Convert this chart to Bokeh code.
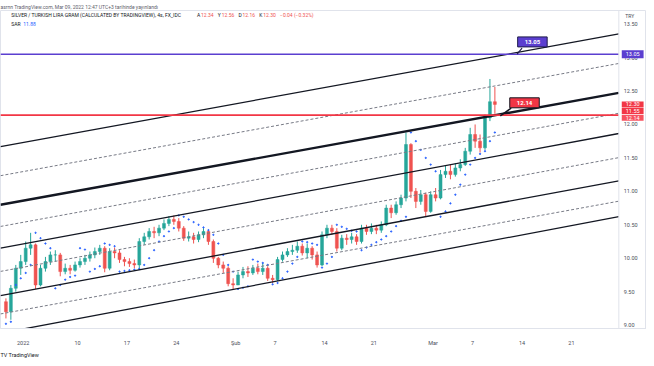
from bokeh.plotting import figure
from bokeh.models import FixedTicker, Label, ColumnDataSource, Span, Title
from bokeh.embed import file_html
from bokeh.resources import INLINE

# ---------------- data ----------------
# 12h candles, x = trading days since 3 Jan 2022 (weekends skipped)
first_day = -2.25
bar_step = 0.5
first_open = 9.35
closes = [9.20, 9.55, 9.85, 9.95, 10.15, 10.20, 9.60, 9.85, 9.95, 10.05,
          10.05, 9.80, 9.85, 9.82, 9.90, 9.95, 10.00, 10.05, 10.10, 10.15,
          9.85, 10.10, 10.08, 9.98, 9.95, 9.92, 9.90, 10.25, 10.32, 10.40,
          10.38, 10.45, 10.52, 10.58, 10.55, 10.45, 10.30, 10.32, 10.28, 10.35,
          10.40, 10.25, 10.00, 9.90, 9.85, 9.62, 9.60, 9.75, 9.80, 9.78,
          9.85, 9.80, 9.85, 9.70, 9.68, 9.98, 10.05, 10.10, 10.12, 10.18,
          10.08, 10.15, 10.05, 9.90, 10.35, 10.45, 10.40, 10.15, 10.30, 10.28,
          10.32, 10.25, 10.45, 10.40, 10.45, 10.42, 10.50, 10.75, 10.68, 10.80,
          10.90, 11.70, 11.00, 10.85, 10.95, 10.70, 10.95, 10.90, 11.25, 11.30,
          11.25, 11.35, 11.40, 11.60, 11.85, 11.75, 11.65, 12.10, 12.34, 12.30]
highs = [9.40, 9.60, 9.90, 10.05, 10.25, 10.38, 10.22, 9.90, 10.02, 10.10,
         10.12, 10.08, 9.92, 9.90, 9.95, 10.00, 10.05, 10.10, 10.16, 10.20,
         10.18, 10.15, 10.16, 10.12, 10.02, 10.00, 9.98, 10.30, 10.38, 10.45,
         10.47, 10.50, 10.58, 10.63, 10.64, 10.60, 10.48, 10.40, 10.38, 10.40,
         10.45, 10.42, 10.28, 10.02, 9.95, 9.88, 9.70, 9.80, 9.87, 9.88,
         9.90, 9.92, 9.93, 9.88, 9.75, 10.02, 10.10, 10.15, 10.20, 10.25,
         10.22, 10.22, 10.18, 10.10, 10.40, 10.50, 10.50, 10.45, 10.35, 10.36,
         10.38, 10.36, 10.50, 10.50, 10.52, 10.50, 10.55, 10.80, 10.80, 10.85,
         10.95, 11.88, 11.72, 11.05, 11.02, 10.98, 11.00, 11.05, 11.32, 11.38,
         11.40, 11.42, 11.48, 11.65, 11.95, 12.00, 11.85, 12.15, 12.68, 12.56]
lows = [9.10, 9.08, 9.50, 9.75, 9.90, 10.05, 9.54, 9.58, 9.80, 9.90,
        9.95, 9.73, 9.76, 9.76, 9.80, 9.86, 9.90, 9.95, 10.00, 10.05,
        9.79, 9.82, 10.00, 9.93, 9.88, 9.87, 9.85, 9.83, 10.20, 10.28,
        10.30, 10.33, 10.42, 10.48, 10.50, 10.40, 10.26, 10.25, 10.22, 10.24,
        10.30, 10.20, 9.93, 9.85, 9.78, 9.58, 9.54, 9.60, 9.70, 9.72,
        9.75, 9.76, 9.75, 9.66, 9.63, 9.66, 9.95, 10.02, 10.05, 10.08,
        10.04, 10.00, 9.98, 9.86, 9.88, 10.30, 10.35, 10.10, 10.12, 10.20,
        10.22, 10.20, 10.22, 10.35, 10.36, 10.36, 10.38, 10.48, 10.60, 10.65,
        10.75, 10.85, 10.90, 10.75, 10.80, 10.62, 10.68, 10.85, 10.88, 11.20,
        11.18, 11.22, 11.30, 11.38, 11.55, 11.65, 11.58, 11.62, 12.05, 12.16]
# Parabolic SAR dots (one per candle)
sar_values = [9.02, 9.05, 9.60, 9.70, 9.78, 9.90, 10.38, 10.30, 10.22, 10.15,
              9.55, 9.60, 9.68, 9.72, 9.74, 10.15, 10.13, 9.80, 9.84, 9.88,
              10.22, 10.20, 10.18, 9.80, 9.81, 9.82, 9.83, 9.84, 9.90, 10.00,
              10.12, 10.25, 10.33, 10.40, 10.45, 10.64, 10.62, 10.58, 10.54, 10.50,
              10.46, 10.42, 10.35, 10.22, 10.05, 9.90, 9.80, 9.54, 9.56, 9.58,
              9.98, 9.95, 9.93, 9.90, 9.61, 9.63, 9.70, 9.80, 9.92, 10.02,
              10.25, 10.24, 10.22, 10.20, 9.86, 9.92, 10.02, 10.50, 10.47, 10.44,
              10.41, 10.40, 10.12, 10.16, 10.20, 10.24, 10.28, 10.33, 10.40, 10.48,
              10.56, 10.62, 11.88, 11.75, 11.62, 11.50, 11.40, 11.30, 10.62, 10.70,
              10.82, 10.95, 11.10, 11.25, 11.40, 11.50, 11.56, 11.60, 11.75, 11.88]

# channel drawing: price of each line at the left and right chart edges
chan_left_day = -2.8
chan_right_day = 59.8
chan_solid_left = [11.668, 10.800, 10.150, 9.442, 8.878]
chan_solid_right = [13.353, 12.472, 11.865, 11.157, 10.622]
chan_solid_width = [1.3, 2.4, 1.3, 1.3, 1.3]
chan_mid_left = [11.234, 10.475, 9.803, 9.167]
chan_mid_right = [12.912, 12.168, 11.504, 10.853]

level_purple = 13.05
level_red = 12.14
last_close = 12.30
countdown = "11.55"
sar_last = 11.88

price_ticks = [9.0, 9.5, 10.0, 10.5, 11.0, 11.5, 12.0, 12.5, 13.0, 13.5]
time_ticks = [-0.5, 5, 10, 15, 21, 25, 30, 35, 41, 45, 50, 55]
time_labels = ["2022", "10", "17", "24", "Şub", "7", "14", "21", "Mar", "7", "14", "21"]

# ---------------- derived ----------------
n = len(closes)
days = [first_day + bar_step * i for i in range(n)]
opens = [first_open] + closes[:-1]
GREEN, RED = "#26a69a", "#ef5350"
colors = [GREEN if c >= o else RED for o, c in zip(opens, closes)]
body_top = [max(o, c) for o, c in zip(opens, closes)]
body_bot = [min(o, c) for o, c in zip(opens, closes)]


# reference-pixel helpers for annotation placement
def dx(px):
    return (px - 28.0) / 10.0


def vy(py):
    return 9.0 + (337.5 - py) / 69.2


FONT = "Roboto"
TXT = "#131722"
AX = "#4a4e59"

p = figure(width=646, height=358, x_range=(dx(0), dx(654)), y_range=(vy(341), vy(12)),
           output_backend="svg", toolbar_location=None, y_axis_location=None,
           min_border_left=0, min_border_right=0, min_border_top=9, min_border_bottom=25)
p.background_fill_color = "white"
p.border_fill_color = "white"
p.outline_line_color = "#e0e3eb"
p.xgrid.grid_line_color = None
p.ygrid.grid_line_color = None

p.title.text = "asrnn TradingView.com, Mar 09, 2022 12:47 UTC+3 tarihinde yayınlandı"
p.title.text_font = FONT
p.title.text_font_size = "5px"
p.title.text_font_style = "normal"
p.title.text_color = "#5d606b"
p.title.align = "left"
p.title.offset = 0
p.title.standoff = 2

p.xaxis.ticker = FixedTicker(ticks=time_ticks)
p.xaxis.major_label_overrides = {t: s for t, s in zip(time_ticks, time_labels)}
p.xaxis.major_label_text_font_size = "5.5px"
p.xaxis.major_label_text_font = FONT
p.xaxis.major_label_text_color = AX
p.xaxis.major_tick_line_color = None
p.xaxis.minor_tick_line_color = None
p.xaxis.axis_line_color = "#e0e3eb"
p.xaxis.major_label_standoff = 5

p.add_layout(Title(text="TV  TradingView", align="left", offset=0, standoff=2,
                   text_font=FONT, text_font_size="5.5px", text_font_style="normal",
                   text_color=TXT), "below")

src = ColumnDataSource(dict(x=days, o=opens, h=highs, l=lows, c=closes,
                            top=body_top, bot=body_bot, col=colors, sar=sar_values))
p.segment(x0="x", y0="h", x1="x", y1="l", color="col", line_width=1, source=src)
p.vbar(x="x", top="top", bottom="bot", width=0.3, fill_color="col", line_color="col",
       line_width=0.5, source=src)
p.scatter(x="x", y="sar", size=1.3, color="#2962ff", source=src)

# channel lines
p.segment(x0=[chan_left_day] * len(chan_mid_left), y0=chan_mid_left,
          x1=[chan_right_day] * len(chan_mid_right), y1=chan_mid_right,
          line_color="#787b86", line_width=1, line_dash="3 2")
p.segment(x0=[chan_left_day] * len(chan_solid_left), y0=chan_solid_left,
          x1=[chan_right_day] * len(chan_solid_right), y1=chan_solid_right,
          line_color=TXT, line_width=chan_solid_width)

# horizontal levels
p.segment(x0=[dx(0)], y0=[level_purple], x1=[dx(626)], y1=[level_purple],
          line_color="#5b3fd0", line_width=1.6)
p.segment(x0=[dx(0)], y0=[level_red], x1=[dx(626)], y1=[level_red],
          line_color="#f23645", line_width=1.8)

# price scale separator
p.add_layout(Span(location=dx(626), dimension="height", line_color="#e0e3eb", line_width=1))

# callout tails
p.segment(x0=[dx(517)], y0=[vy(113)], x1=[dx(506)], y1=[vy(121)],
          line_color=TXT, line_width=1.5)
p.segment(x0=[dx(528)], y0=[vy(51)], x1=[dx(523)], y1=[level_purple],
          line_color="#1e1b4b", line_width=1.2)


def lab(x, y, text, size="5px", color=TXT, align="left", bold=False, **kw):
    p.add_layout(Label(x=x, y=y, text=text, text_font=FONT,
                       text_font_size=size, text_color=color, text_align=align,
                       text_baseline="middle", text_font_style="bold" if bold else "normal",
                       **kw))


# price scale tick labels
for t in price_ticks:
    lab(dx(631), t, f"{t:.2f}", size="5.5px", color=AX)
lab(dx(637), vy(18), "TRY", size="5px", color=AX, align="center")

# callout boxes in the chart
lab(dx(538.5), vy(44.5), f"{level_purple:.2f}", size="6px", color="white", align="center",
    bold=True, background_fill_color="#5b3fd0", border_line_color="#1e1b4b",
    border_line_width=1, padding=(7, 3))
lab(dx(530.5), vy(107.5), f"{level_red:.2f}", size="6px", color="white", align="center",
    bold=True, background_fill_color="#f23645", border_line_color=TXT,
    border_line_width=1, padding=(7, 3))

# price-scale value labels
lab(dx(640), level_purple, f"{level_purple:.2f}", size="5.5px", color="white",
    align="center", background_fill_color="#5b3fd0", padding=(4, 2))
lab(dx(640), last_close, f"{last_close:.2f}", size="5.5px", color="white",
    align="center", background_fill_color="#f23645", padding=(4, 1))
lab(dx(640), vy(116), countdown, size="5.5px", color="white",
    align="center", background_fill_color="#f23645", padding=(4, 1))
lab(dx(640), vy(123), f"{level_red:.2f}", size="5.5px", color="white",
    align="center", background_fill_color="#f7525f", padding=(4, 1))

# legend
lab(dx(11), vy(17), "SILVER / TURKISH LIRA GRAM (CALCULATED BY TRADINGVIEW), 4s, FX_IDC")
ohlc = [("A", opens[-1]), ("Y", highs[-1]), ("D", lows[-1]), ("K", closes[-1])]
for k, (letter, val) in enumerate(ohlc):
    x0 = 199 + 21 * k
    lab(dx(x0), vy(17), letter)
    lab(dx(x0 + 4), vy(17), f"{val:.2f}", color=RED)
chg = closes[-1] - opens[-1]
lab(dx(283), vy(17), f"\u2212{abs(chg):.2f} (\u2212{abs(chg) / opens[-1] * 100:.2f}%)", color=RED)
lab(dx(11), vy(26), "SAR")
lab(dx(23), vy(26), f"{sar_last:.2f}", color="#2962ff")

open("out.html", "w").write(file_html(p, INLINE))
